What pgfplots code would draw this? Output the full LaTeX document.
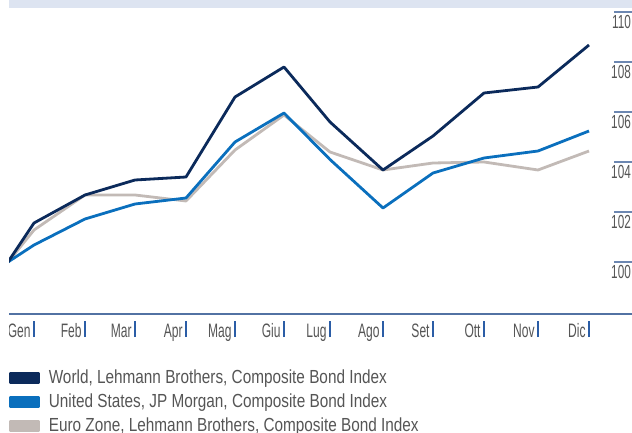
\documentclass[border=0pt]{standalone}
\usepackage{pgfplots}
\pgfplotsset{compat=1.18}
\usepackage{fontspec}
\setmainfont{Liberation Sans}
\newfontfamily\tickfont{Liberation Sans}[FakeStretch=0.62]
\newfontfamily\legfont{Liberation Sans}[FakeStretch=0.81]
\definecolor{world}{HTML}{0B2A5B}
\definecolor{us}{HTML}{0A6FBD}
\definecolor{euro}{HTML}{C2BAB6}
\definecolor{band}{HTML}{DDE4F1}
\definecolor{axisblue}{HTML}{5272A3}
\definecolor{tickbar}{HTML}{2B5DA6}
\definecolor{labgray}{HTML}{555555}
\newcommand{\tb}{\hspace{2.5bp}\textcolor{tickbar}{\rule{1.5bp}{16bp}}}
\begin{document}
\begin{tikzpicture}[x=1bp,y=1bp]
\useasboundingbox (0,0) rectangle (632,432);
\clip (9,0) rectangle (632,432);
\fill[band] (9,424) rectangle (632,432);
\begin{axis}[
  at={(8bp,118bp)}, anchor=south west,
  scale only axis, width=624bp, height=314bp,
  xmin=8, xmax=632, ymin=97.92, ymax=110.48,
  axis x line*=bottom, axis y line*=right,
  x axis line style={-, axisblue, line width=1.5bp},
  y axis line style={draw=none},
  xtick={34,85,135,186,235,284,330,383,433,484,538,589},
  xticklabels={Gen\tb,Feb\tb,Mar\tb,Apr\tb,Mag\tb,Giu\tb,Lug\tb,Ago\tb,Set\tb,Ott\tb,Nov\tb,Dic\tb},
  x tick style={draw=none},
  xticklabel style={anchor=north east, inner sep=0pt, yshift=-7bp, xshift=0.75bp,
    font=\tickfont\fontsize{19.5}{19.5}\selectfont, text=labgray},
  ytick={100,102,104,106,108,110},
  tick align=inside,
  major tick length=18bp,
  y tick style={axisblue!85, line width=1.5bp},
  yticklabel style={anchor=north east, inner sep=0pt, xshift=-1bp, yshift=-3bp,
    font=\tickfont\fontsize{19}{19}\selectfont, text=labgray},
  /pgf/number format/assume math mode=true,
  reverse legend,
  legend cell align=left,
  legend image code/.code={\fill[#1] (0bp,-5bp) rectangle (28bp,5bp);},
  legend style={at={(0,0)}, anchor=north west, xshift=1bp, yshift=-55bp,
    draw=none, fill=none, inner sep=0pt, outer sep=0pt,
    font=\legfont\fontsize{19}{23}\selectfont, text=labgray,
    nodes={inner sep=0pt, text height=14bp, text depth=4bp},
    row sep=6bp,
    /tikz/every odd column/.append style={column sep=9bp}},
  line join=round,
]
\addplot[euro, line width=2.8bp] coordinates {
 (8,100) (34,101.28) (85,102.68) (135,102.68) (186,102.44) (235,104.48) (284,105.88)
 (330,104.4) (383,103.68) (433,103.96) (484,104.0) (538,103.68) (589,104.44)};
\addlegendentry{Euro Zone, Lehmann Brothers, Composite Bond Index}
\addplot[us, line width=2.8bp] coordinates {
 (8,100) (34,100.68) (85,101.72) (135,102.32) (186,102.56) (235,104.8) (284,105.96)
 (330,104.1) (383,102.16) (433,103.56) (484,104.16) (538,104.44) (589,105.24)};
\addlegendentry{United States, JP Morgan, Composite Bond Index}
\addplot[world, line width=2.8bp] coordinates {
 (8,100) (34,101.56) (85,102.68) (135,103.28) (186,103.4) (235,106.6) (284,107.8)
 (330,105.6) (383,103.68) (433,105.04) (484,106.76) (538,107.0) (589,108.68)};
\addlegendentry{World, Lehmann Brothers, Composite Bond Index}
\end{axis}
\end{tikzpicture}
\end{document}
